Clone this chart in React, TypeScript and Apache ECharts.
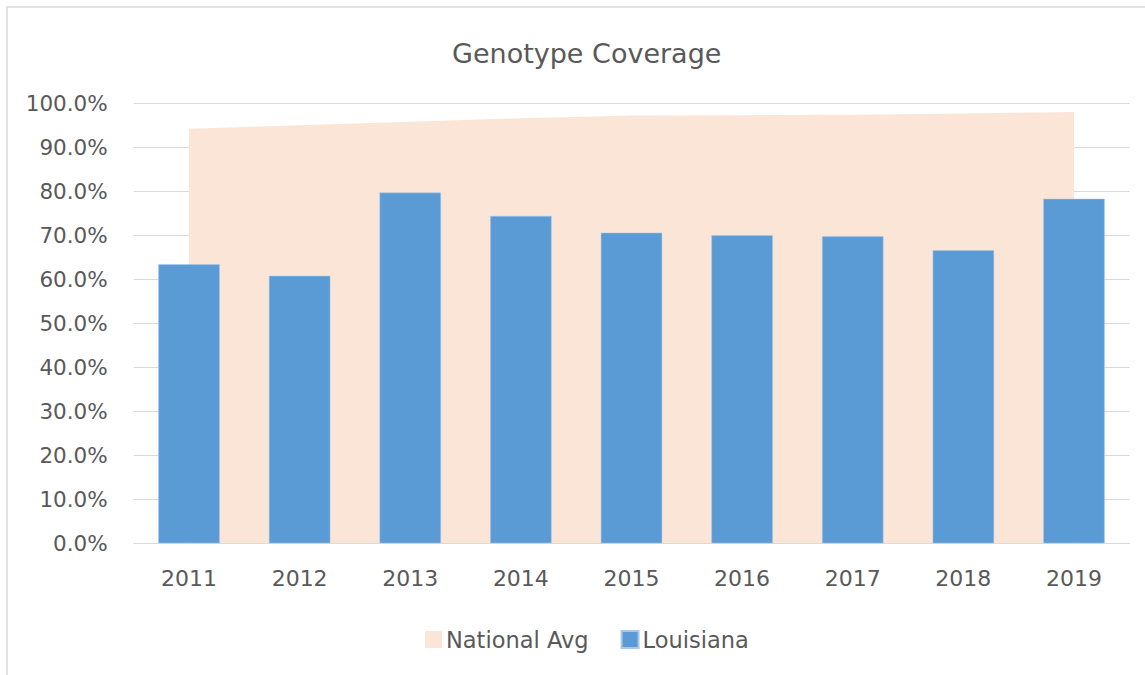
import React, { useEffect, useRef } from "react";
import * as echarts from "echarts";

const years = ["2011", "2012", "2013", "2014", "2015", "2016", "2017", "2018", "2019"];
const nationalAvg = [94.2, 95.0, 95.8, 96.6, 97.2, 97.3, 97.4, 97.7, 98.0];
const louisiana = [63.4, 60.8, 79.7, 74.4, 70.6, 70.0, 69.8, 66.6, 78.3];
const yTicks = { min: 0, max: 100, interval: 10 };

const FONT = "DejaVu Sans";
const TEXT = "#595959";

export default function App() {
  const ref = useRef<HTMLDivElement>(null);
  useEffect(() => {
    if (!ref.current) return;
    const chart = echarts.init(ref.current, undefined, { renderer: "svg" });
    chart.setOption({
      animation: false,
      backgroundColor: "#ffffff",
      title: {
        text: "Genotype Coverage",
        left: 447,
        top: 35,
        textStyle: { fontFamily: FONT, fontSize: 27, fontWeight: "normal", color: TEXT },
      },
      legend: {
        data: ["National Avg", "Louisiana"],
        left: 420,
        top: 623,
        itemWidth: 17,
        itemHeight: 17,
        itemGap: 32,
        icon: "rect",
        textStyle: { fontFamily: FONT, fontSize: 22.5, color: TEXT, padding: [0, 0, 0, -1] },
      },
      grid: { left: 133.7, right: 15.7, top: 103.3, bottom: 131.7, containLabel: false },
      xAxis: {
        type: "category",
        data: years,
        boundaryGap: true,
        axisLine: { lineStyle: { color: "#D9D9D9", width: 1 } },
        axisTick: { show: false },
        axisLabel: { fontFamily: FONT, fontSize: 22, color: TEXT, margin: 24 },
      },
      yAxis: {
        type: "value",
        min: yTicks.min,
        max: yTicks.max,
        interval: yTicks.interval,
        axisLine: { show: false },
        axisTick: { show: false },
        splitLine: { lineStyle: { color: "#D9D9D9", width: 1 } },
        axisLabel: {
          fontFamily: FONT,
          fontSize: 21.5,
          color: TEXT,
          margin: 26,
          formatter: (v: number) => v.toFixed(1) + "%",
        },
      },
      series: [
        {
          name: "National Avg",
          type: "line",
          data: nationalAvg,
          symbol: "none",
          lineStyle: { width: 0 },
          itemStyle: { color: "#FBE5D6" },
          areaStyle: { color: "#FBE5D6", opacity: 1 },
          z: 1,
        },
        {
          name: "Louisiana",
          type: "bar",
          data: louisiana,
          barWidth: "55.5%",
          itemStyle: { color: "#5B9BD5", borderColor: "#A9C8E8", borderWidth: 0.5 },
          z: 2,
        },
      ],
      graphic: [
        {
          type: "rect",
          silent: true,
          shape: { x: 7, y: 7, width: 1160, height: 700 },
          style: { fill: "none", stroke: "#D9D9D9", lineWidth: 1.5 },
        },
      ],
    });
    return () => chart.dispose();
  }, []);
  return (
    <div
      ref={ref}
      style={{ position: "absolute", left: 0, top: 0, width: 1145, height: 675 }}
    />
  );
}
